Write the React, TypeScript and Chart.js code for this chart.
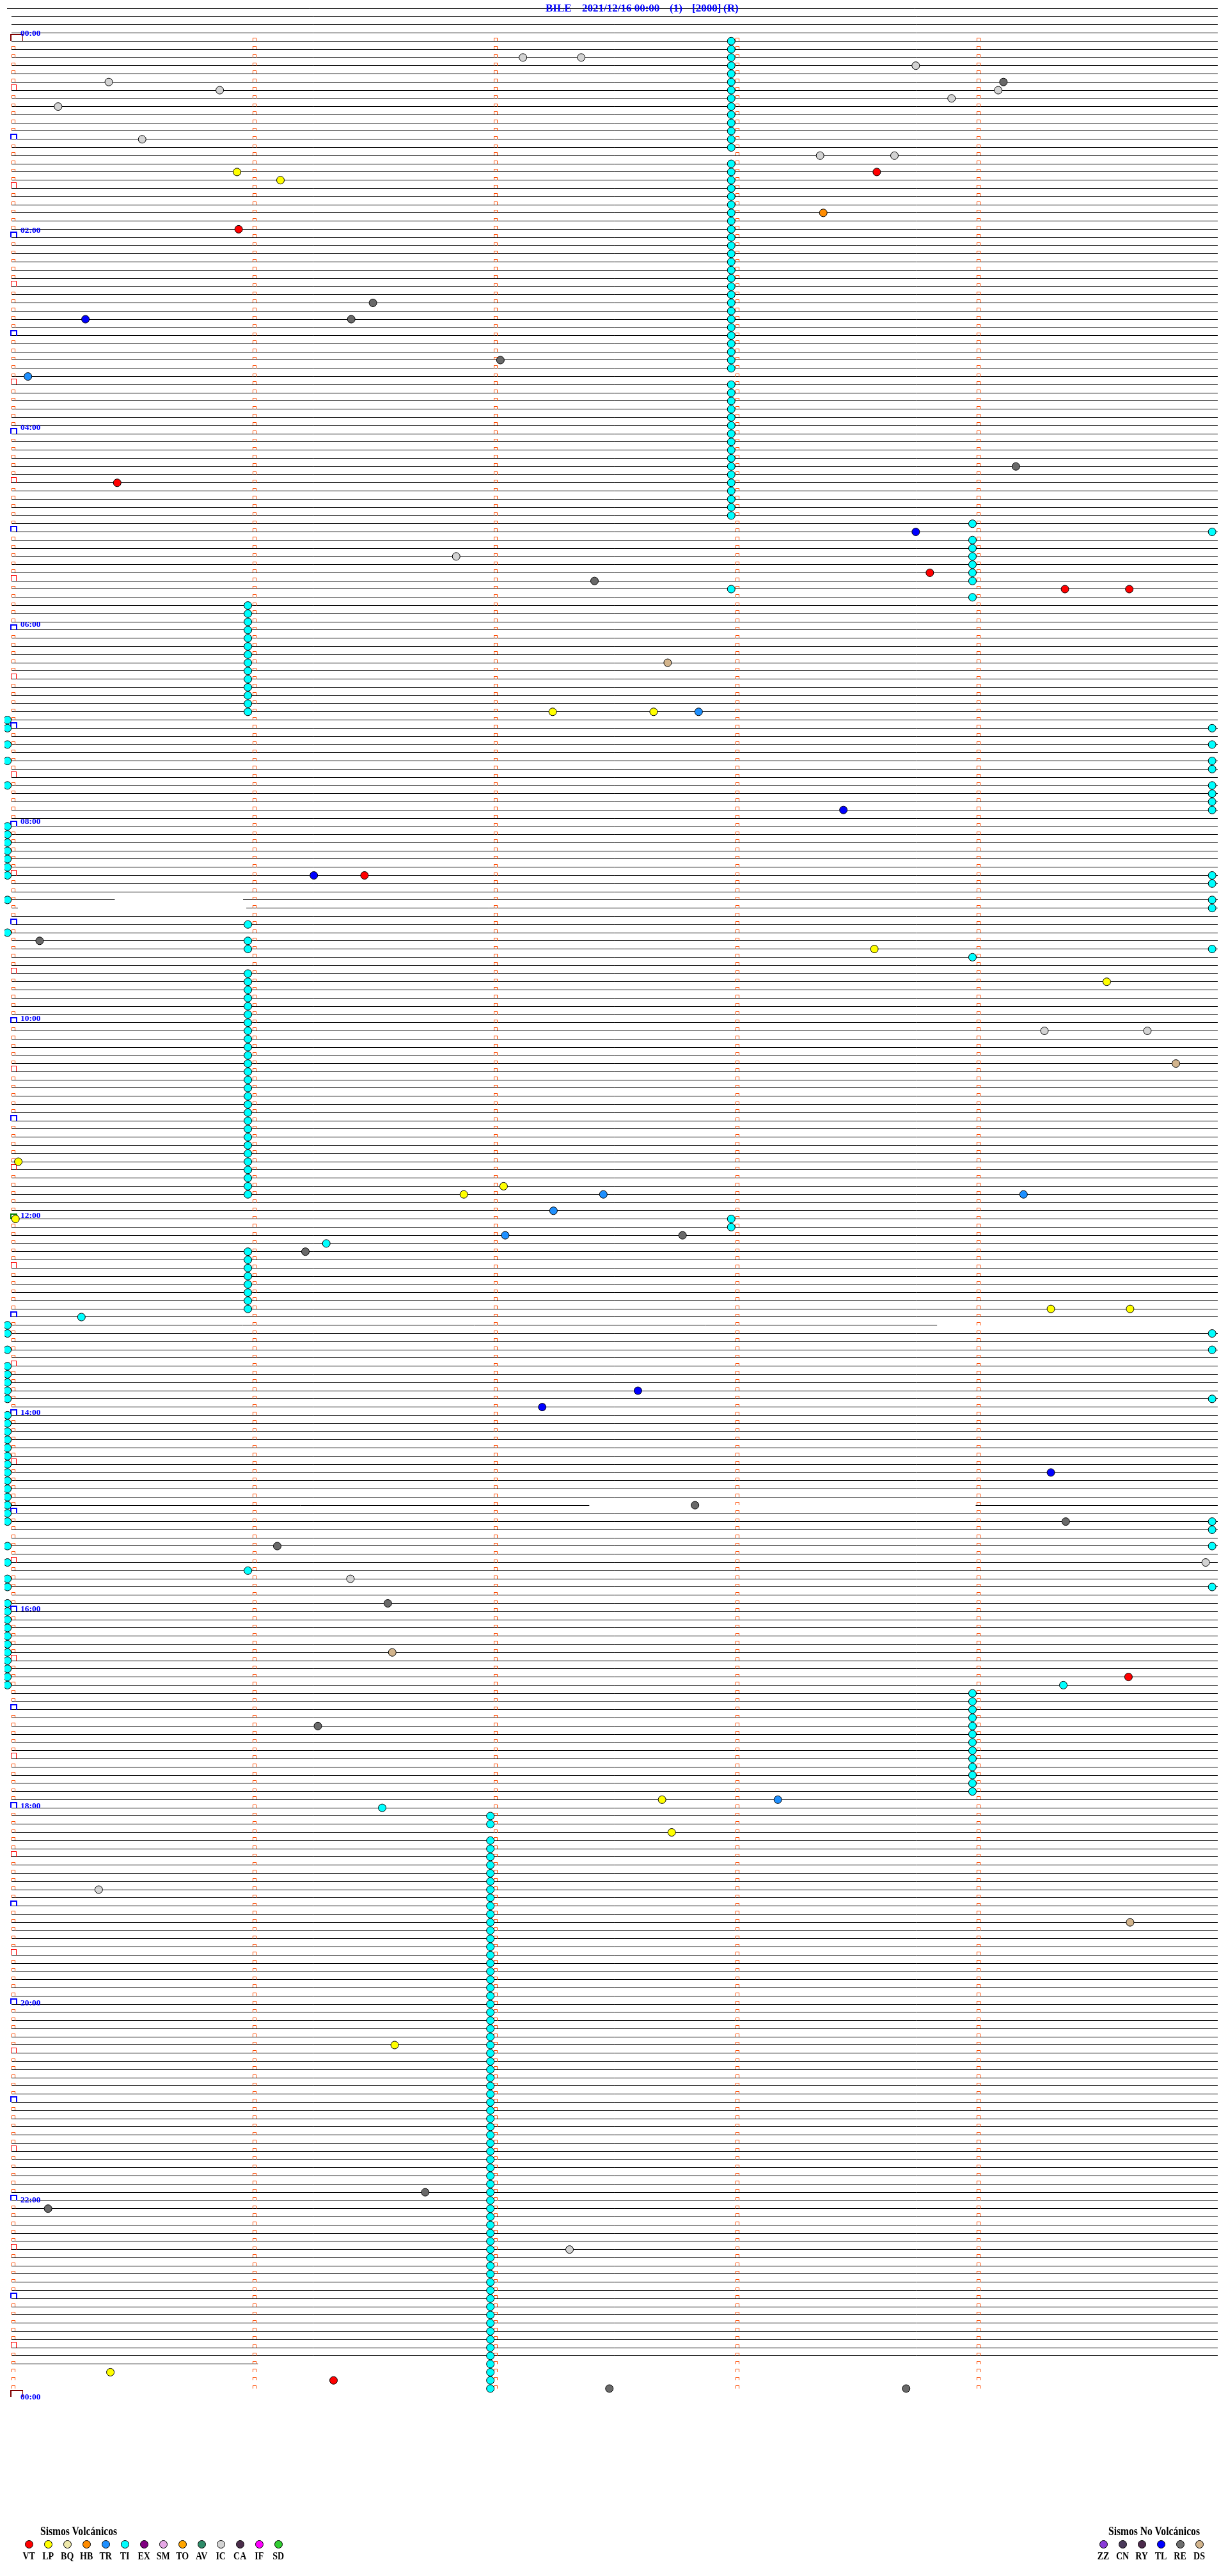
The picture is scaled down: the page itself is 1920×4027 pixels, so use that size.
import React, { useEffect, useRef } from "react";
import { Chart, registerables } from "chart.js";

Chart.register(...registerables);

// ---------------- data ----------------
const STATION = "BILE";
const DATE_LABEL = "2021/12/16 00:00";
const TITLE_TAGS = ["(1)", "[2000]", "(R)"];

// 5-minute trace rows: row k starts at k*5 min. 288 rows = 24 h.
const ROWS_PER_DAY = 288;
const FIRST_TRACE_ROW = -4; // four blank traces above 00:00
const LAST_TRACE_ROW = 284; // data stops in row 284
const MINUTE_TICKS = [0, 60, 120, 180, 240]; // seconds inside a 5-min row
const HOUR_LABEL_ROWS = [0, 24, 48, 72, 96, 120, 144, 168, 192, 216, 240, 264, 288];
const HOUR_LABELS = ["00:00", "02:00", "04:00", "06:00", "08:00", "10:00", "12:00", "14:00", "16:00", "18:00", "20:00", "22:00", "00:00"];

// gaps in traces: [row, fromSec, toSec]
const TRACE_GAPS = [
  [105, 25.7, 57.6],
  [106, 1.6, 58.4],
  [157, 230.2, 300],
  [179, 143.7, 239.8],
  [284, 61.3, 300],
];
// traces that start earlier than second 0: [row, startSec]
const TRACE_EARLY_START = [[-4, -1.1]];

// events: [row, second within the row]
const VT_EVENTS = [[16, 215.2], [23, 56.5], [54, 26.3], [65, 228.4], [67, 262.0], [67, 278.0], [102, 87.8], [200, 277.8], [286, 80.1]];
const LP_EVENTS = [[16, 56.1], [17, 66.9], [82, 134.6], [82, 159.7], [111, 214.6], [115, 272.4], [137, 1.7], [140, 122.4], [141, 112.5], [144, 1.0], [155, 258.5], [155, 278.2], [215, 161.8], [219, 164.2], [245, 95.3], [285, 24.6]];
const HB_EVENTS = [[21, 201.9]];
const TR_EVENTS = [[41, 4.1], [82, 170.9], [141, 147.2], [141, 251.7], [143, 134.8], [146, 122.8], [215, 190.6]];
const IC_EVENTS = [[2, 127.2], [2, 141.7], [3, 224.9], [5, 24.2], [6, 51.8], [6, 245.4], [7, 233.8], [8, 11.6], [12, 32.5], [14, 201.1], [14, 219.6], [63, 110.6], [121, 256.9], [121, 282.5], [186, 297.0], [188, 84.3], [226, 21.7], [270, 138.8]];
const RE_EVENTS = [[5, 246.7], [32, 89.9], [34, 84.5], [39, 121.6], [52, 249.8], [66, 145.0], [110, 7.0], [146, 166.9], [148, 73.1], [179, 170.0], [181, 262.2], [184, 66.1], [191, 93.6], [206, 76.2], [263, 102.9], [265, 9.1], [287, 148.7], [287, 222.5]];
const TL_EVENTS = [[34, 18.4], [60, 224.9], [94, 206.9], [102, 75.2], [165, 155.8], [167, 132.0], [175, 258.5]];
const DS_EVENTS = [[76, 163.2], [125, 289.6], [197, 94.7], [230, 278.2]];

// TI (tremor) events, grouped by the second at which they sit
const TI_AT_179 = [0, 1, 2, 3, 4, 5, 6, 7, 8, 9, 10, 11, 12, 13, 15, 16, 17, 18, 19, 20, 21, 22, 23, 24, 25, 26, 27, 28, 29, 30, 31, 32, 33, 34, 35, 36, 37, 38, 39, 40, 42, 43, 44, 45, 46, 47, 48, 49, 50, 51, 52, 53, 54, 55, 56, 57, 58, 67, 144, 145];
const TI_AT_239 = [59, 61, 62, 63, 64, 65, 66, 68, 112, 202, 203, 204, 205, 206, 207, 208, 209, 210, 211, 212, 213, 214];
const TI_AT_59 = [69, 70, 71, 72, 73, 74, 75, 76, 77, 78, 79, 80, 81, 82, 108, 110, 111, 114, 115, 116, 117, 118, 119, 120, 121, 122, 123, 124, 125, 126, 127, 128, 129, 130, 131, 132, 133, 134, 135, 136, 137, 138, 139, 140, 141, 148, 149, 150, 151, 152, 153, 154, 155, 187];
const TI_AT_119 = [217, 218, 220, 221, 222, 223, 224, 225, 226, 227, 228, 229, 230, 231, 232, 233, 234, 235, 236, 237, 238, 239, 240, 241, 242, 243, 244, 245, 246, 247, 248, 249, 250, 251, 252, 253, 254, 255, 256, 257, 258, 259, 260, 261, 262, 263, 264, 265, 266, 267, 268, 269, 270, 271, 272, 273, 274, 275, 276, 277, 278, 279, 280, 281, 282, 283, 284, 285, 286, 287];
const TI_AT_START = [83, 84, 86, 88, 91, 96, 97, 98, 99, 100, 101, 102, 105, 109, 157, 158, 160, 162, 163, 164, 165, 166, 168, 169, 170, 171, 172, 173, 174, 175, 176, 177, 178, 179, 180, 181, 184, 186, 188, 189, 191, 192, 193, 194, 195, 196, 197, 198, 199, 200, 201];
const TI_AT_END = [60, 84, 86, 88, 89, 91, 92, 93, 94, 102, 103, 105, 106, 111, 158, 160, 166, 181, 182, 184, 189];
const TI_OTHER = [[147, 78.3], [156, 17.4], [201, 261.6], [216, 92.2]];
const TI_COLUMN_SECONDS = [179.0, 239.0, 58.8, 119.1, -1.0, 298.6];

// legend
const VOLC_CODES = ["VT", "LP", "BQ", "HB", "TR", "TI", "EX", "SM", "TO", "AV", "IC", "CA", "IF", "SD"];
const VOLC_COLORS = ["#FF0000", "#FFFF00", "#EEE8AA", "#FF8C00", "#1E90FF", "#00FFFF", "#800080", "#E6A8E6", "#FFA500", "#2E8B68", "#D3D3D3", "#4B2D4B", "#FF00FF", "#32CD32"];
const NONVOLC_CODES = ["ZZ", "CN", "RY", "TL", "RE", "DS"];
const NONVOLC_COLORS = ["#8A3BD8", "#4A3A5A", "#4B2A4B", "#0000FF", "#6E6E6E", "#D2B48C"];

// ---------------- layout constants ----------------
const W = 1920;
const H = 4027;
const ROW0_PX = 57.5;
const ROW_PX = 12.831;
const X0_PX = 11;
const SEC_PX = 6.333;
const rowY = (k: number) => ROW0_PX + ROW_PX * k;
const FONT = '"Liberation Serif", "Times New Roman", serif';

function makeMark(w: number, h: number, color: string, top: number, left: number, right: number, dx: number) {
  const pad = w + 4;
  const c = document.createElement("canvas");
  c.width = pad * 2;
  c.height = h * 2;
  const g = c.getContext("2d")!;
  g.fillStyle = color;
  const x0 = pad + dx;
  g.fillRect(x0, 0, w, top);
  g.fillRect(x0, 0, left, h);
  g.fillRect(x0 + w - right, 0, right, h);
  return c;
}

const toPts = (arr: number[][]) => arr.map(([k, s]) => ({ x: s, y: k }));
const colPts = (rows: number[], s: number) => rows.map((k) => ({ x: s, y: k }));

export default function App() {
  const ref = useRef<HTMLCanvasElement>(null);

  useEffect(() => {
    const canvas = ref.current!;
    // trace lines
    const lineData: any[] = [];
    for (let k = FIRST_TRACE_ROW; k <= LAST_TRACE_ROW; k++) {
      const gaps = TRACE_GAPS.filter((g) => g[0] === k);
      const early = TRACE_EARLY_START.find((e) => e[0] === k);
      let start = early ? early[1] : 0;
      for (const g of gaps) {
        lineData.push({ x: start, y: k }, { x: g[1], y: k }, { x: g[1], y: null });
        start = g[2];
      }
      if (start < 300) lineData.push({ x: start, y: k }, { x: 300, y: k }, { x: 300, y: null });
    }

    // minute / half-hour / hour marks
    const orange = makeMark(6, 5, "#FF4A00", 1, 1, 1, 0);
    const red = makeMark(9, 9, "#FF0000", 1, 1, 1, -1);
    const blue = makeMark(11, 9, "#0000FF", 2, 2, 2, -2);
    const green = makeMark(11, 9, "#008000", 2, 2, 2, -2);
    const maroon = makeMark(20, 11, "#800000", 2, 2, 1, -2);
    const markPts: any[] = [];
    const markStyles: any[] = [];
    for (let k = 0; k <= ROWS_PER_DAY; k++) {
      for (const m of MINUTE_TICKS) {
        let st: any = null;
        if (m === 0 && k % 6 === 0) {
          if (k % 12 === 6) st = red;
          else if (k === 0 || k === ROWS_PER_DAY) st = maroon;
          else if (k === 144) st = green;
          else st = blue;
        } else if (k < ROWS_PER_DAY) st = orange;
        if (st) {
          markPts.push({ x: m, y: k });
          markStyles.push(st);
        }
      }
    }

    const ev = (label: string, pts: any[], color: string) => ({
      label,
      data: pts,
      showLine: false,
      pointRadius: 6,
      pointBorderWidth: 1,
      pointBorderColor: "#000000",
      pointBackgroundColor: color,
      order: 0,
    });

    const tiPts = [
      ...colPts(TI_AT_179, TI_COLUMN_SECONDS[0]),
      ...colPts(TI_AT_239, TI_COLUMN_SECONDS[1]),
      ...colPts(TI_AT_59, TI_COLUMN_SECONDS[2]),
      ...colPts(TI_AT_119, TI_COLUMN_SECONDS[3]),
      ...colPts(TI_AT_START, TI_COLUMN_SECONDS[4]),
      ...colPts(TI_AT_END, TI_COLUMN_SECONDS[5]),
      ...toPts(TI_OTHER),
    ];

    const datasets: any[] = [
      ev("TI", tiPts, "#00FFFF"),
      ev("VT", toPts(VT_EVENTS), "#FF0000"),
      ev("LP", toPts(LP_EVENTS), "#FFFF00"),
      ev("HB", toPts(HB_EVENTS), "#FF8C00"),
      ev("TR", toPts(TR_EVENTS), "#1E90FF"),
      ev("IC", toPts(IC_EVENTS), "#D3D3D3"),
      ev("RE", toPts(RE_EVENTS), "#696969"),
      ev("TL", toPts(TL_EVENTS), "#0000FF"),
      ev("DS", toPts(DS_EVENTS), "#D2B48C"),
      {
        label: "marks",
        data: markPts,
        showLine: false,
        pointStyle: markStyles as any,
        pointRadius: 5,
        order: 1,
      },
      {
        label: "traces",
        data: lineData,
        showLine: true,
        spanGaps: false,
        pointRadius: 0,
        borderColor: "#000000",
        borderWidth: 1,
        tension: 0,
        order: 2,
      },
    ];
    const TRACE_INDEX = datasets.length - 1;

    const chart = new Chart(canvas, {
      type: "scatter",
      data: { datasets },
      options: {
        responsive: false,
        devicePixelRatio: 1,
        animation: false,
        events: [],
        layout: { padding: 0 },
        plugins: { legend: { display: false }, tooltip: { enabled: false } },
        scales: {
          x: { type: "linear", display: false, min: -X0_PX / SEC_PX, max: (W - X0_PX) / SEC_PX },
          y: { type: "linear", display: false, reverse: true, min: -ROW0_PX / ROW_PX, max: (H - ROW0_PX) / ROW_PX },
        },
      },
      plugins: [
        {
          id: "crisp",
          beforeDatasetsDraw(c: any) {
            c.ctx.imageSmoothingEnabled = false;
            // snap 1px trace lines to the pixel grid so they stay sharp
            const meta = c.getDatasetMeta(TRACE_INDEX);
            meta.data.forEach((el: any) => {
              if (Number.isFinite(el.y)) el.y = Math.floor(el.y) + 0.5;
            });
          },
        },
      ],
    } as any);
    return () => chart.destroy();
  }, []);

  const titleStyle = (left: number): React.CSSProperties => ({
    position: "absolute",
    left,
    top: 4,
    font: `bold 17px ${FONT}`,
    lineHeight: "17px",
    color: "#0000FF",
    whiteSpace: "nowrap",
  });

  return (
    <div style={{ position: "absolute", left: 0, top: 0, width: W, height: H, background: "#fff", overflow: "hidden" }}>
      <canvas ref={ref} width={W} height={H} style={{ position: "absolute", left: 0, top: 0, width: W, height: H }} />
      <div style={titleStyle(853)}>{STATION}</div>
      <div style={titleStyle(910)}>{DATE_LABEL}</div>
      <div style={titleStyle(1047)}>{TITLE_TAGS[0]}</div>
      <div style={titleStyle(1082)}>{TITLE_TAGS[1]}</div>
      <div style={titleStyle(1131)}>{TITLE_TAGS[2]}</div>
      {HOUR_LABELS.map((t, i) => (
        <div
          key={"h" + i}
          style={{
            position: "absolute",
            left: 32,
            top: rowY(HOUR_LABEL_ROWS[i]) - 12.6,
            font: `bold 13.5px ${FONT}`,
            lineHeight: "13.5px",
            color: "#0000FF",
            whiteSpace: "nowrap",
          }}
        >
          {t}
        </div>
      ))}
      {/* legend: volcanic */}
      <div style={{ position: "absolute", left: 63, top: 3950, font: `bold 15.6px ${FONT}`, lineHeight: "15.6px", color: "#000", whiteSpace: "nowrap", transform: "scaleY(1.23)", transformOrigin: "50% 13px" }}>
        Sismos Volcánicos
      </div>
      {VOLC_CODES.map((c, i) => (
        <React.Fragment key={"v" + c}>
          <div style={{ position: "absolute", left: 45.2 + 30 * i - 6.5, top: 3977.3 - 6.5, width: 11, height: 11, borderRadius: "50%", border: "1px solid #000", background: VOLC_COLORS[i] }} />
          <div style={{ position: "absolute", left: 45.2 + 30 * i - 20, width: 40, textAlign: "center", top: 3990, font: `bold 14px ${FONT}`, lineHeight: "14px", color: "#000", transform: "scaleY(1.25)", transformOrigin: "50% 11.7px" }}>
            {c}
          </div>
        </React.Fragment>
      ))}
      {/* legend: non volcanic */}
      <div style={{ position: "absolute", left: 1733, top: 3950, font: `bold 15.6px ${FONT}`, lineHeight: "15.6px", color: "#000", whiteSpace: "nowrap", transform: "scaleY(1.23)", transformOrigin: "50% 13px" }}>
        Sismos No Volcánicos
      </div>
      {NONVOLC_CODES.map((c, i) => (
        <React.Fragment key={"n" + c}>
          <div style={{ position: "absolute", left: 1725 + 30 * i - 6.5, top: 3977.3 - 6.5, width: 11, height: 11, borderRadius: "50%", border: "1px solid #000", background: NONVOLC_COLORS[i] }} />
          <div style={{ position: "absolute", left: 1725 + 30 * i - 20, width: 40, textAlign: "center", top: 3990, font: `bold 14px ${FONT}`, lineHeight: "14px", color: "#000", transform: "scaleY(1.25)", transformOrigin: "50% 11.7px" }}>
            {c}
          </div>
        </React.Fragment>
      ))}
    </div>
  );
}
